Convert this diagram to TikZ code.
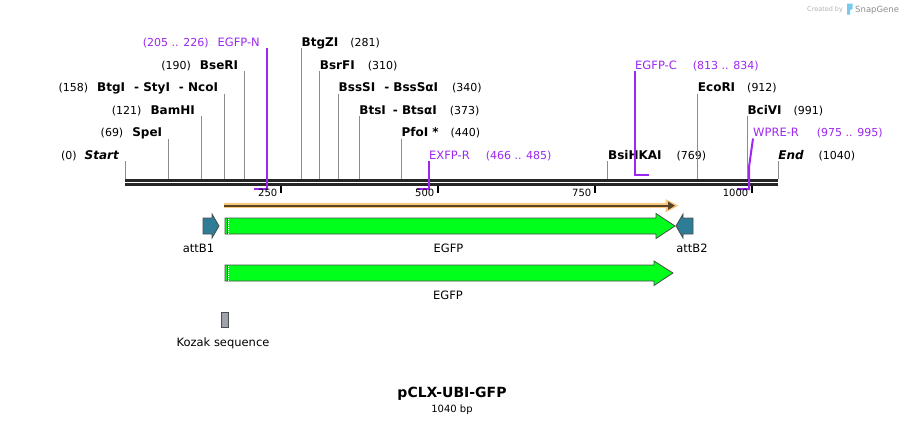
\documentclass[tikz,border=0pt]{standalone}
\usepackage{fontspec}
\setmainfont{DejaVu Sans}
\usetikzlibrary{arrows.meta}

\definecolor{primerviolet}{RGB}{156,39,240}
\definecolor{featgreen}{RGB}{0,255,26}
\definecolor{attteal}{RGB}{46,124,150}
\definecolor{orfhalo}{RGB}{250,200,125}
\definecolor{orfline}{RGB}{88,68,40}
\definecolor{kozakgray}{RGB}{158,162,170}
\definecolor{logoblue}{RGB}{120,200,240}

% bp -> x on the map (0 at x=125, 1040 at x=778)
\newcommand{\bpx}[1]{125+#1*0.628}
\newcommand{\posn}[1]{{\fontsize{11}{13}\selectfont(#1)}}
\newcommand{\ename}[1]{{\fontsize{12}{14}\selectfont\bfseries #1}}

\begin{document}
\begin{tikzpicture}[x=1pt,y=-1pt]
\tikzstyle enz=[inner sep=0pt, font=\fontsize{11.5}{14}\selectfont]
\tikzstyle enzL=[enz, anchor=base east]
\tikzstyle enzR=[enz, anchor=base west]
\tikzstyle cut=[draw=black!45, line width=0.9pt]
\tikzstyle primer=[color=primerviolet, line width=2pt]
\tikzstyle primertext=[enz, text=primerviolet]
\tikzstyle feature=[draw=black!70, line width=0.8pt]
\tikzstyle featlabel=[enz, anchor=base]

\useasboundingbox (0,0) rectangle (904,423);

% credit
\node[anchor=base west, inner sep=0pt, text=black!30, font=\fontsize{6.5}{8}\selectfont] (credit) at (807,11) {Created by};
\fill[logoblue] (847,3.5) -- (852.5,3.5) -- (852.5,9) -- (850,10) -- (850,14.5) -- (847,14.5) -- cycle;
\node[anchor=base west, inner sep=0pt, text=black!45, font=\fontsize{8.5}{10}\selectfont] (snapgene) at (855,12.5) {SnapGene};

% cut sites on the backbone
\coordinate (start-cut) at ({\bpx{0}},179);
\coordinate (speI-cut) at ({\bpx{69}},179);
\coordinate (bamHI-cut) at ({\bpx{121}},179);
\coordinate (ncoI-cut) at ({\bpx{158}},179);
\coordinate (bseRI-cut) at ({\bpx{190}},179);
\coordinate (btgZI-cut) at ({\bpx{281}},179);
\coordinate (bsrFI-cut) at ({\bpx{310}},179);
\coordinate (bssSI-cut) at ({\bpx{340}},179);
\coordinate (btsI-cut) at ({\bpx{373}},179);
\coordinate (pfoI-cut) at ({\bpx{440}},179);
\coordinate (bsiHKAI-cut) at ({\bpx{769}},179);
\coordinate (ecoRI-cut) at ({\bpx{912}},179);
\coordinate (bciVI-cut) at ({\bpx{991}},179);
\coordinate (end-cut) at ({\bpx{1040}},179);

% enzymes, labels left of the line
\node[enzL] (start) at ({\bpx{0}-6},159) {\posn{0}\hspace{8pt}\ename{\itshape Start}};
\node[enzL] (speI) at ({\bpx{69}-6},136.5) {\posn{69}\hspace{9pt}\ename{SpeI}};
\node[enzL] (bamHI) at ({\bpx{121}-6},114) {\posn{121}\hspace{9pt}\ename{BamHI}};
\node[enzL] (ncoI) at ({\bpx{158}-6},91.5) {\posn{158}\hspace{9pt}\ename{BtgI\hspace{9pt}- StyI\hspace{9pt}- NcoI}};
\node[enzL] (bseRI) at ({\bpx{190}-6},69) {\posn{190}\hspace{9pt}\ename{BseRI}};
\draw[cut] ([shift={(6pt,-2pt)}]start.base east) -- (start-cut);
\draw[cut] ([shift={(6pt,-2pt)}]speI.base east) -- (speI-cut);
\draw[cut] ([shift={(6pt,-2pt)}]bamHI.base east) -- (bamHI-cut);
\draw[cut] ([shift={(6pt,-2pt)}]ncoI.base east) -- (ncoI-cut);
\draw[cut] ([shift={(6pt,-2pt)}]bseRI.base east) -- (bseRI-cut);

% enzymes, labels right of the line
\node[enzR] (btgZI) at ({\bpx{281}},46) {\ename{BtgZI}\hspace{12pt}\posn{281}};
\node[enzR] (bsrFI) at ({\bpx{310}},69) {\ename{BsrFI}\hspace{13pt}\posn{310}};
\node[enzR] (bssSI) at ({\bpx{340}},91.5) {\ename{BssSI\hspace{9pt}- BssSαI}\hspace{14pt}\posn{340}};
\node[enzR] (btsI) at ({\bpx{373}},114) {\ename{BtsI\hspace{7pt}- BtsαI}\hspace{13pt}\posn{373}};
\node[enzR] (pfoI) at ({\bpx{440}},136.5) {\ename{PfoI *}\hspace{12pt}\posn{440}};
\node[enzR] (bsiHKAI) at ({\bpx{769}},159) {\ename{BsiHKAI}\hspace{15pt}\posn{769}};
\node[enzR] (ecoRI) at ({\bpx{912}},91.5) {\ename{EcoRI}\hspace{12pt}\posn{912}};
\node[enzR] (bciVI) at ({\bpx{991}},114) {\ename{BciVI}\hspace{12pt}\posn{991}};
\node[enzR] (end) at ({\bpx{1040}},159) {\ename{\itshape End}\hspace{15pt}\posn{1040}};
\draw[cut] ([yshift=-2pt]btgZI.base west) -- (btgZI-cut);
\draw[cut] ([yshift=-2pt]bsrFI.base west) -- (bsrFI-cut);
\draw[cut] ([yshift=-2pt]bssSI.base west) -- (bssSI-cut);
\draw[cut] ([yshift=-2pt]btsI.base west) -- (btsI-cut);
\draw[cut] ([yshift=-2pt]pfoI.base west) -- (pfoI-cut);
\draw[cut] ([yshift=-2pt]bsiHKAI.base west) -- (bsiHKAI-cut);
\draw[cut] ([yshift=-2pt]ecoRI.base west) -- (ecoRI-cut);
\draw[cut] ([yshift=-2pt]bciVI.base west) -- (bciVI-cut);
\draw[cut] ([yshift=-2pt]end.base west) -- (end-cut);

% backbone
\coordinate (bb-start) at ({\bpx{0}},180.3);
\coordinate (bb-end) at ({\bpx{1040}},180.3);
\draw[line width=2.6pt, black!85] (bb-start) -- (bb-end);
\draw[line width=3pt, black!85] ([yshift=-3.9pt]bb-start) -- ([yshift=-3.9pt]bb-end);

% primers (ends snapped to whole pixels)
\coordinate (egfpN-top) at (267,48);
\coordinate (egfpN-s) at (254,189);
\coordinate (egfpN-e) at (267,189);
\coordinate (exfpR-top) at (429,161);
\coordinate (exfpR-s) at (417,189);
\coordinate (exfpR-e) at (429,189);
\coordinate (egfpC-top) at (635,71);
\coordinate (egfpC-s) at (635,175);
\coordinate (egfpC-e) at (649,175);
\coordinate (wpreR-top) at (753,138.5);
\coordinate (wpreR-kink) at (749,167);
\coordinate (wpreR-s) at (737,189);
\coordinate (wpreR-e) at (749,189);
\node[primertext, anchor=base east] (egfpN) at (260,46) {\posn{205 .. 226}\hspace{9pt}EGFP-N};
\node[primertext, anchor=base west] (exfpR) at (exfpR-top |- 0,159) {EXFP-R\hspace{16pt}\posn{466 .. 485}};
\node[primertext, anchor=base west] (egfpC) at (egfpC-top |- 0,69) {EGFP-C\hspace{16pt}\posn{813 .. 834}};
\node[primertext, anchor=base west] (wpreR) at (wpreR-top |- 0,136.5) {WPRE-R\hspace{18pt}\posn{975 .. 995}};
\draw[primer] (egfpN-top) -- (egfpN-e) -- (egfpN-s);
\draw[primer] (exfpR-top) -- (exfpR-e) -- (exfpR-s);
\draw[primer] (egfpC-top) -- (egfpC-s) -- (egfpC-e);
\draw[primer] (wpreR-top) -- (wpreR-kink) -- (wpreR-e) -- (wpreR-s);

% ruler
\foreach \t in {250,500,750,1000} {
  \draw[line width=2pt] ({\bpx{\t}-0.8},185.5) -- ({\bpx{\t}-0.8},192.5);
  \node[inner sep=0pt, anchor=base east, font=\fontsize{10}{12}\selectfont] (tick-\t) at ({\bpx{\t}-4.5},196.5) {\t};
}

% ORF
\coordinate (orf-s) at (224,205.7);
\coordinate (orf-e) at (675,205.7);
\draw[line width=5.5pt, orfhalo] (orf-s) -- (668,205.7);
\fill[orfhalo] (665.5,199) -- (678.5,205.7) -- (665.5,212.4) -- cycle;
\draw[line width=2pt, orfline, -{Triangle[length=7pt,width=8pt]}] (orf-s) -- (orf-e);

% features, first row
\filldraw[feature, fill=attteal] (203,218) -- (212,218) -- (212,214) -- (219,226) -- (212,238) -- (212,234) -- (203,234) -- cycle;
\filldraw[feature, fill=featgreen] (225,218) -- (656,218) -- (656,213.5) -- (675,226) -- (656,238.5) -- (656,234) -- (225,234) -- cycle;
\draw[black!70, line width=0.6pt] (227.6,218) -- (227.6,234);
\draw[white, line width=0.6pt, dash pattern=on 1pt off 1pt] (228.4,218.5) -- (228.4,233.5);
\filldraw[feature, fill=attteal] (676,226) -- (683,214) -- (683,218) -- (693,218) -- (693,234) -- (683,234) -- (683,238) -- cycle;
\node[featlabel] (attB1) at (198.5,252) {attB1};
\node[featlabel] (egfp1) at (448.5,252) {EGFP};
\node[featlabel] (attB2) at (692,252) {attB2};

% features, second row
\filldraw[feature, fill=featgreen] (225,265) -- (654,265) -- (654,261) -- (673,273) -- (654,285.5) -- (654,281) -- (225,281) -- cycle;
\draw[black!70, line width=0.6pt] (227.6,265) -- (227.6,281);
\draw[white, line width=0.6pt, dash pattern=on 1pt off 1pt] (228.4,265.5) -- (228.4,280.5);
\node[featlabel] (egfp2) at (448,299) {EGFP};

% Kozak
\filldraw[feature, fill=kozakgray] (221,312) rectangle (228,327.5);
\node[featlabel] (kozak) at (223,346) {Kozak sequence};

% title
\node[anchor=base, inner sep=0pt, font=\bfseries\fontsize{14}{16}\selectfont] (title) at (452,397) {pCLX-UBI-GFP};
\node[anchor=base, inner sep=0pt, font=\fontsize{10}{12}\selectfont] (length) at (452,412.5) {1040 bp};
\end{tikzpicture}
\end{document}
